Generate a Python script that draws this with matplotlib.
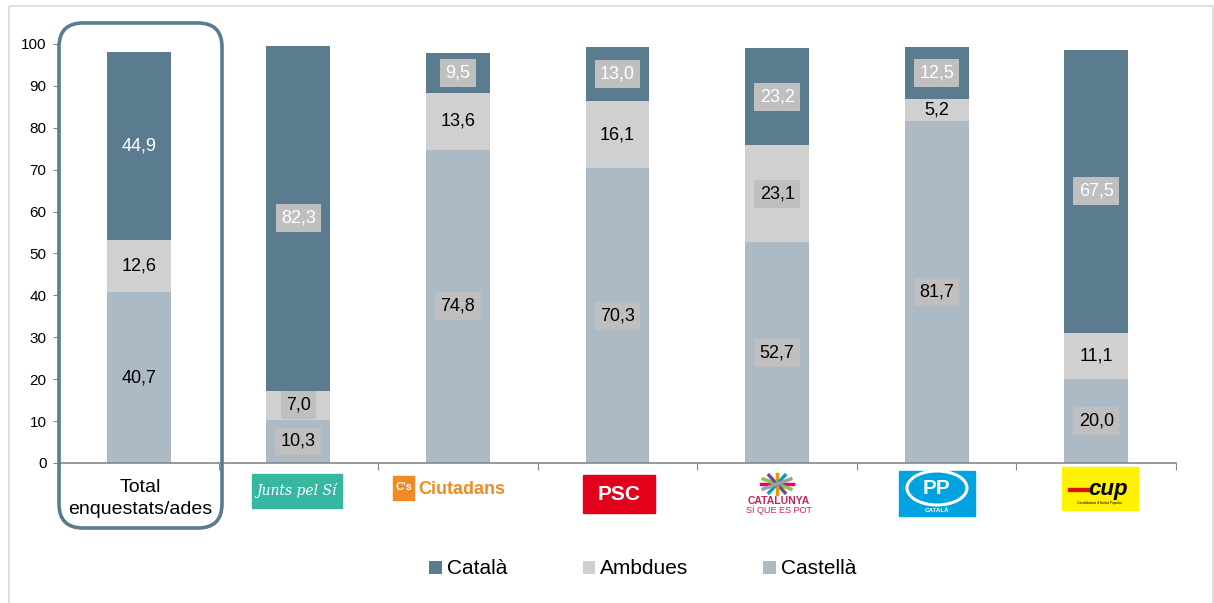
import matplotlib
matplotlib.use('Agg')
import matplotlib.pyplot as plt
from matplotlib.patches import Rectangle, FancyBboxPatch, Ellipse
import numpy as np

plt.rcParams['font.family'] = ['Liberation Sans', 'DejaVu Sans']

# data
groups = ['Total', 'Junts pel Sí', "C's", 'PSC', 'CSQEP', 'PP', 'CUP']
castella = [40.7, 10.3, 74.8, 70.3, 52.7, 81.7, 20.0]
ambdues = [12.6, 7.0, 13.6, 16.1, 23.1, 5.2, 11.1]
catala = [44.9, 82.3, 9.5, 13.0, 23.2, 12.5, 67.5]
series_names = ['Català', 'Ambdues', 'Castellà']
# which labels get a grey box (castella, ambdues, catala)
boxed = [
    (False, False, False),
    (True, True, True),
    (True, False, True),
    (True, False, True),
    (True, True, True),
    (True, False, True),
    (True, False, True),
]

c_cat = '#5B7B8F'
c_amb = '#D0D0D0'
c_cas = '#ABBAC5'
c_box = '#BFBFBF'

W, H = 1214, 603
fig = plt.figure(figsize=(W / 100, H / 100), dpi=100)

def fx(px):
    return px / W
def fy(py):
    return 1 - py / H

ax = fig.add_axes([fx(59), fy(463), fx(1176) - fx(59), fy(44) - fy(463)])

x = np.arange(len(groups))
bw = 0.4
b1 = ax.bar(x, castella, bw, color=c_cas, label='Castellà')
b2 = ax.bar(x, ambdues, bw, bottom=castella, color=c_amb, label='Ambdues')
bot3 = np.array(castella) + np.array(ambdues)
b3 = ax.bar(x, catala, bw, bottom=bot3, color=c_cat, label='Català')

def put_label(xi, y, val, color, box):
    txt = ('%.1f' % val).replace('.', ',')
    kw = {}
    if box:
        kw['bbox'] = dict(boxstyle='square,pad=0.3', fc=c_box, ec='none')
    ax.text(xi, y, txt, ha='center', va='center', fontsize=13, color=color, **kw)

for i in x:
    put_label(i, castella[i] / 2, castella[i], 'black', boxed[i][0])
    put_label(i, castella[i] + ambdues[i] / 2, ambdues[i], 'black', boxed[i][1])
    put_label(i, bot3[i] + catala[i] / 2, catala[i], 'white', boxed[i][2])

ax.set_xlim(-0.5, len(groups) - 0.5)
ax.set_ylim(0, 100)
ax.set_yticks(np.arange(0, 101, 10))
ax.set_xticks(np.arange(-0.5, len(groups), 1.0))
ax.set_xticklabels([])
ax.tick_params(axis='x', length=5, color='#888888', direction='out')
ax.tick_params(axis='y', length=4, color='#888888', labelsize=11, pad=5)
for s in ['top', 'right']:
    ax.spines[s].set_visible(False)
ax.spines['left'].set_color('#888888')
ax.spines['bottom'].set_color('#888888')
ax.spines['bottom'].set_linewidth(1.2)

# overlay in pixel units for decorations
ov = fig.add_axes([0, 0, 1, 1], zorder=5)
ov.set_xlim(0, W)
ov.set_ylim(H, 0)
ov.axis('off')
ov.patch.set_alpha(0)

# outer frame
ov.add_patch(Rectangle((9, 6), 1204, 640, fill=False, ec='#D9D9D9', lw=1.2, clip_on=False))

# rounded box round the total column
ov.add_patch(FancyBboxPatch((59, 23), 163, 505, boxstyle='round,pad=0,rounding_size=24',
                            fill=False, ec=c_cat, lw=2.6))

ov.text(140, 488, 'Total', ha='center', va='center', fontsize=14)
ov.text(140, 510, 'enquestats/ades', ha='center', va='center', fontsize=14)

# party logos, drawn as text
ov.add_patch(Rectangle((252, 474), 90, 34, color='#36B8A0'))
ov.text(297, 491, 'Junts pel Sí', ha='center', va='center', fontsize=10,
        color='white', style='italic', fontfamily='DejaVu Serif')

ov.add_patch(Rectangle((393, 476), 21, 24, color='#F08A24'))
ov.text(403.5, 487, "C's", ha='center', va='center', fontsize=8,
        color='white', weight='bold')
ov.text(418, 489, 'Ciutadans', ha='left', va='center', fontsize=13,
        color='#F08A24', weight='bold')

ov.add_patch(Rectangle((583, 475), 72, 38, color='#E3001B'))
ov.text(619, 495, 'PSC', ha='center', va='center', fontsize=15,
        color='white', weight='bold')

star_cols = ['#E5007E', '#8BC34A', '#6A4C9C', '#F39200', '#00A0C6', '#9E9E9E']
for k, cc in enumerate(star_cols):
    a = np.pi * k / len(star_cols)
    dx, dy = 16 * np.cos(a), 10 * np.sin(a)
    ov.plot([777 - dx, 777 + dx], [484 - dy, 484 + dy], color=cc, lw=2.5)
ov.text(779, 501, 'CATALUNYA', ha='center', va='center', fontsize=7.5,
        color='#C8245A', weight='bold')
ov.text(779, 510, 'SÍ QUE ES POT', ha='center', va='center', fontsize=6.5,
        color='#C8245A')

ov.add_patch(Rectangle((899, 471), 76, 45, color='#00A3E0'))
ov.add_patch(Ellipse((937, 488), 60, 34, fill=False, ec='white', lw=2.2))
ov.text(937, 489, 'PP', ha='center', va='center', fontsize=15,
        color='white', weight='bold')
ov.text(937, 511, 'CATALÀ', ha='center', va='center', fontsize=4.5,
        color='white', weight='bold')

ov.add_patch(Rectangle((1062, 467), 76, 43, color='#FFF200'))
ov.add_patch(Rectangle((1068, 488), 22, 3, color='#D7141A'))
ov.text(1108, 489, 'cup', ha='center', va='center', fontsize=16,
        color='black', weight='bold', style='italic')
ov.text(1100, 503, 'Candidatura d\'Unitat Popular', ha='center', va='center',
        fontsize=2.5, color='black')

# legend
leg = fig.legend([b3, b2, b1], series_names, loc='center', ncol=3,
                 bbox_to_anchor=(fx(643), fy(569)), frameon=False, fontsize=15,
                 handlelength=0.6, handleheight=0.6, handletextpad=0.25,
                 columnspacing=3.6, borderaxespad=0)

fig.savefig('out.png', dpi=100)
